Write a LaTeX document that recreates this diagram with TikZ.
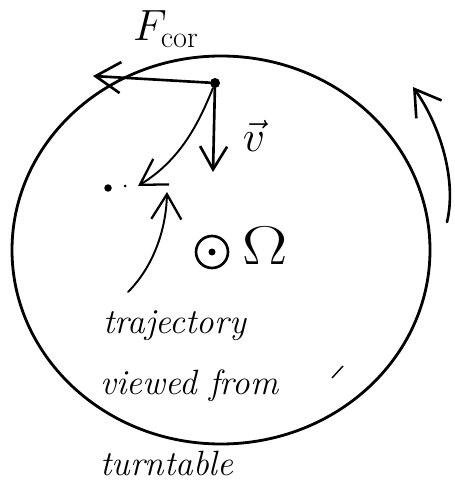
\documentclass[tikz,border=0pt]{standalone}
\usepackage{amsmath,amssymb}
\usepackage{tikz}
\usetikzlibrary{positioning,arrows.meta,calc}

\begin{document}
\begin{tikzpicture}[x=0.02cm,y=-0.02cm,
  pen/.style={line width=1.5pt,line cap=round,line join=round},
  penarrow/.style={pen,-{Straight Barb[length=0.5cm,width=0.62cm,line width=1.5pt]}},
  thinarrow/.style={line width=1.1pt,line cap=round,-{Straight Barb[length=0.5cm,width=0.6cm,line width=1.3pt]}},
  massdot/.style={circle,fill,inner sep=0pt,minimum size=0.2cm},
  specdot/.style={circle,fill,inner sep=0pt,minimum size=#1},
  handtext/.style={font=\fontsize{20}{22}\selectfont\itshape,inner sep=0pt},
  symb/.style={font=\fontsize{26}{30}\selectfont,inner sep=0pt}]

\useasboundingbox (0,0) rectangle (455,482);

% turntable rim
\draw[pen,line width=1.6pt] (221,250) ellipse [x radius=209,y radius=194];
\draw[line width=0.8pt] (332,378) -- (343,366);

% sense of rotation
\coordinate (rottail) at (447,222);
\coordinate (rottip) at (413,87);
\draw[penarrow] (rottail) .. controls (457,180) and (440,125) .. (rottip);

% mass, Coriolis force and velocity
\node[massdot] (mass) at (215,83) {};
\coordinate (fcortip) at (93,76);
\draw[penarrow] (mass) -- (fcortip);
\node[symb,font=\fontsize{24}{28}\selectfont] (fcor) at (166,29) {$F_{\mathrm{cor}}$};
\coordinate (vtip) at (213,172);
\draw[penarrow,-{Straight Barb[length=0.46cm,width=0.54cm,line width=1.5pt]}] (mass) -- (vtip);
\node[symb,font=\fontsize{24}{28}\selectfont] (vlab) at (254,136) {$\vec{v}$};

% path seen on the turntable
\coordinate (trajtip) at (138,186);
\draw[thinarrow] (mass) .. controls (198,125) and (180,160) .. (trajtip);
\node[specdot=0.15cm] (ball) at (108,188) {};
\node[specdot=0.06cm] (ballb) at (125,186) {};

% rotation axis out of the page
\node[draw,circle,line width=1.5pt,minimum width=0.6cm,minimum height=0.64cm,inner sep=0pt] (axis) at (212,252) {};
\node[specdot=0.14cm] (axisdot) at (axis.center) {};
\node[symb] (omega) at (265,246) {\scalebox{1.55}[1.25]{$\Omega$}};

% label
\node[handtext,anchor=base west] (traj) at (103,333) {trajectory};
\node[handtext,anchor=base west] (viewed) at (100,394) {viewed from};
\node[handtext,anchor=base west] (turn) at (100,475) {turntable};
\coordinate (ptail) at (128,292);
\coordinate (ptip) at (167,192);
\draw[thinarrow] (ptail) .. controls (152,268) and (166,232) .. (ptip);
\end{tikzpicture}
\end{document}
